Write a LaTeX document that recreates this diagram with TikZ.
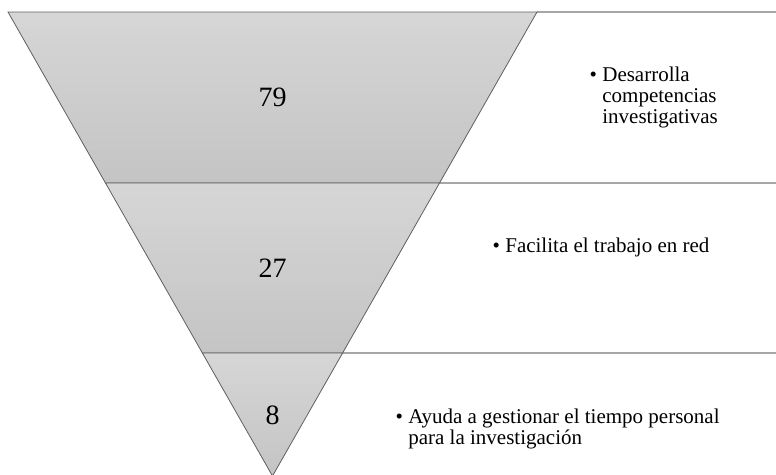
\documentclass[tikz,border=0pt]{standalone}
\usepackage{fontspec}
\setmainfont{Liberation Serif}
\usetikzlibrary{calc}
\definecolor{bandtop}{HTML}{D6D6D6}
\definecolor{bandbot}{HTML}{C4C4C4}
\definecolor{bandline}{HTML}{5F5F5F}
\definecolor{ruleline}{HTML}{A6A6A6}
\tikzstyle{band}=[draw=bandline,line width=0.8pt,top color=bandtop,bottom color=bandbot]
\tikzstyle{rule}=[draw=ruleline,line width=1.2pt]
\tikzstyle{count}=[font=\fontsize{28}{30}\selectfont,inner sep=0pt]
\tikzstyle{item}=[font=\fontsize{21}{21}\selectfont,inner sep=0pt,anchor=base west]
\newcommand{\itembox}[1]{\textbullet\hspace{5.5pt}\begin{tabular}[t]{@{}l@{}}#1\end{tabular}}

\begin{document}
\begin{tikzpicture}[x=1pt,y=-1pt]
	\useasboundingbox (0,0) rectangle (776,474);
	
	\coordinate (tl) at (8,12);
	\coordinate (tr) at (537,12);
	\coordinate (apex) at (272.5,476);
	\coordinate (l1) at ($(tl)!0.3685!(apex)$);
	\coordinate (r1) at ($(tr)!0.3685!(apex)$);
	\coordinate (l2) at ($(tl)!0.7349!(apex)$);
	\coordinate (r2) at ($(tr)!0.7349!(apex)$);
	\coordinate (edge) at (776,0);
	
	% rules to the right
	\draw[rule] (tr) -- (tr -| edge);
	\draw[rule] (r1) -- (r1 -| edge);
	\draw[rule] (r2) -- (r2 -| edge);
	
	% bands
	\path[band] (tl) -- (tr) -- (r1) -- (l1) -- cycle;
	\path[band] (l1) -- (r1) -- (r2) -- (l2) -- cycle;
	\path[band] (l2) -- (r2) -- (apex) -- cycle;
	
	\node (n79) [count] at (272.5,97) {79};
	\node (n27) [count] at (272.5,268) {27};
	\node (n8) [count] at (272.5,415) {8};
	
	\node (t1) [item] at (589.3,81) {\itembox{Desarrolla\\competencias\\investigativas}};
	\node (t2) [item] at (492.3,252) {\itembox{Facilita el trabajo en red}};
	\node (t3) [item] at (395.3,423) {\itembox{Ayuda a gestionar el tiempo personal\\para la investigación}};
\end{tikzpicture}
\end{document}
